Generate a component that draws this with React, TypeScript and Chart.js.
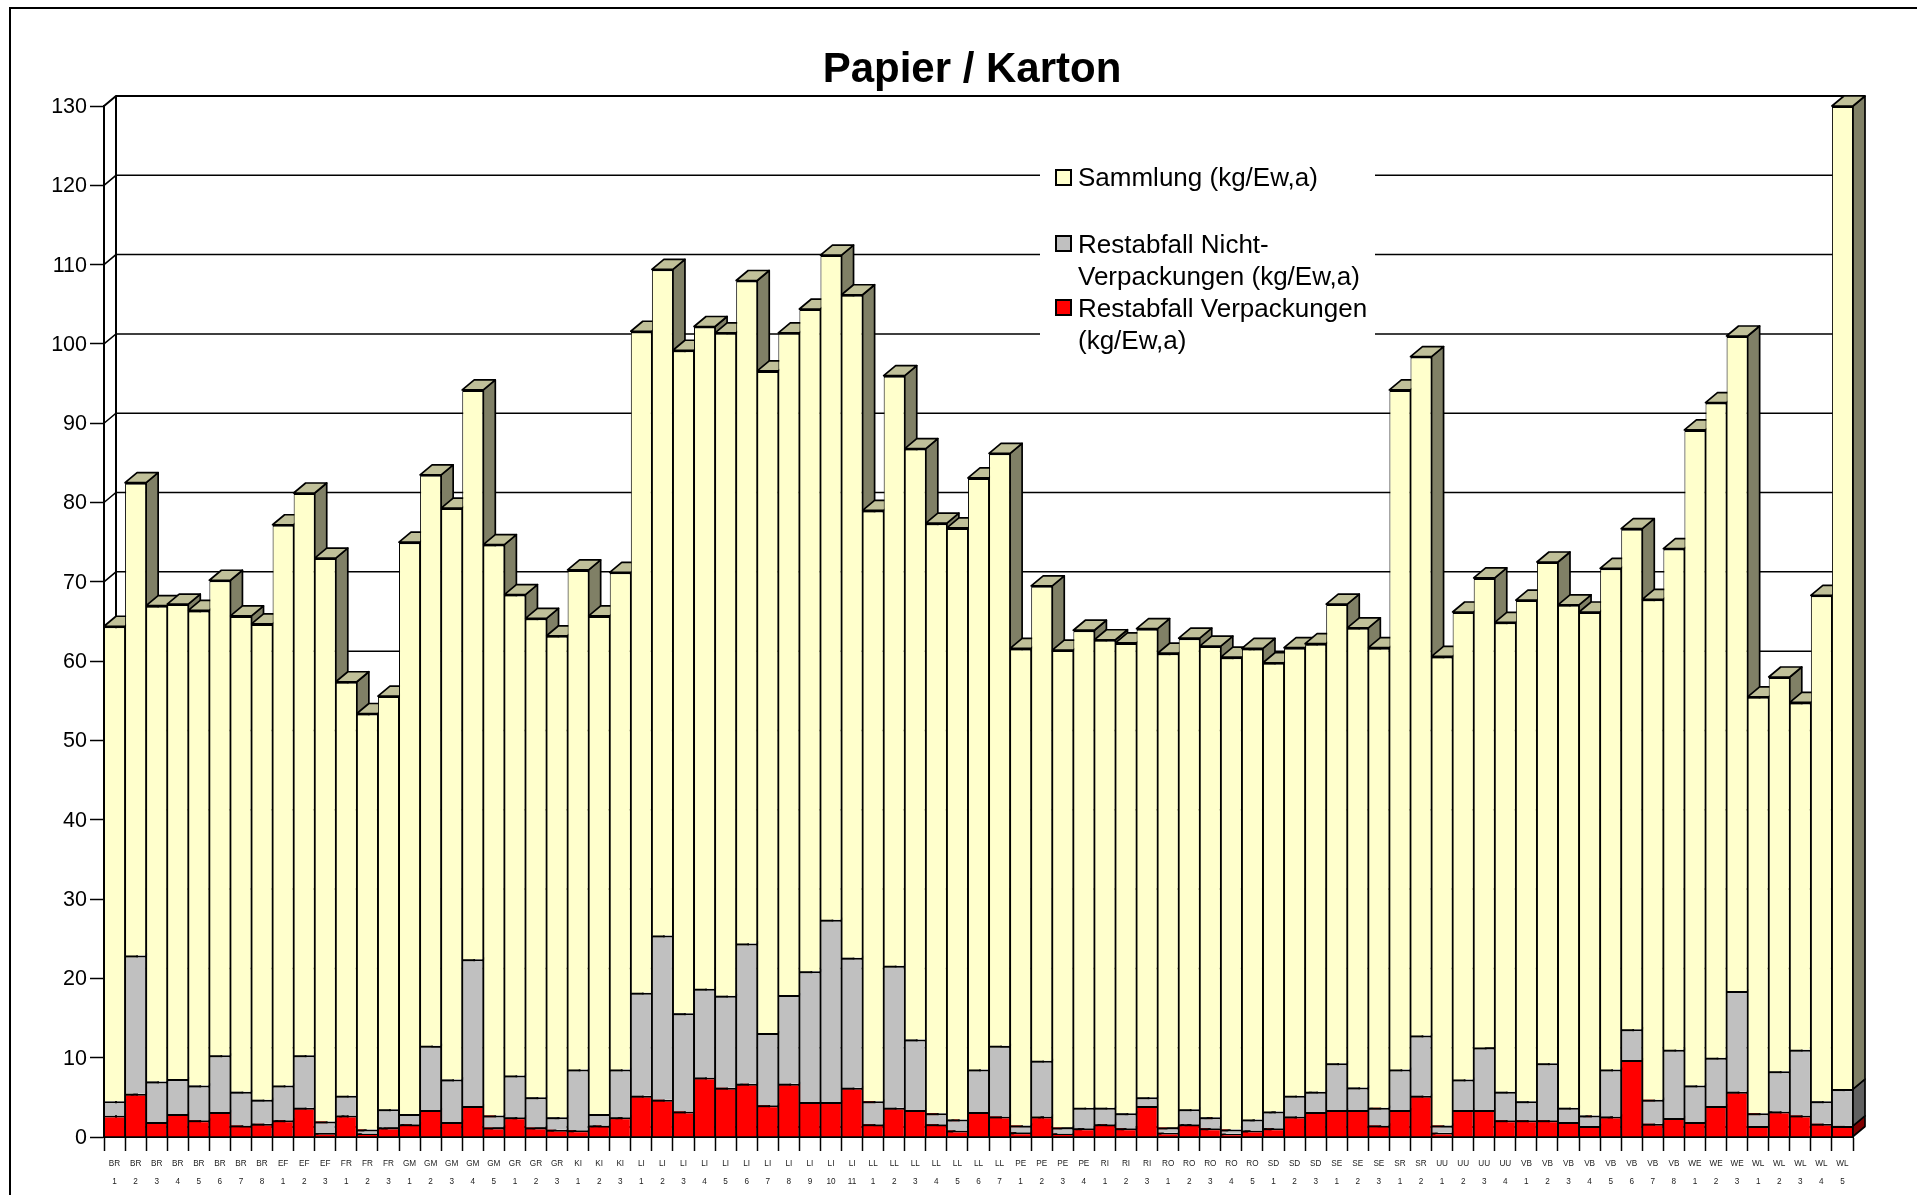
import React, { useEffect, useRef } from "react";
import { Chart, registerables } from "chart.js";

Chart.register(...registerables);

const groupNames = ["BR","BR","BR","BR","BR","BR","BR","BR","EF","EF","EF","FR","FR","FR","GM","GM","GM","GM","GM","GR","GR","GR","KI","KI","KI","LI","LI","LI","LI","LI","LI","LI","LI","LI","LI","LI","LL","LL","LL","LL","LL","LL","LL","PE","PE","PE","PE","RI","RI","RI","RO","RO","RO","RO","RO","SD","SD","SD","SE","SE","SE","SR","SR","UU","UU","UU","UU","VB","VB","VB","VB","VB","VB","VB","VB","WE","WE","WE","WL","WL","WL","WL","WL"];
const groupNumbers = ["1","2","3","4","5","6","7","8","1","2","3","1","2","3","1","2","3","4","5","1","2","3","1","2","3","1","2","3","4","5","6","7","8","9","10","11","1","2","3","4","5","6","7","1","2","3","4","1","2","3","1","2","3","4","5","1","2","3","1","2","3","1","2","1","2","3","4","1","2","3","4","5","6","7","8","1","2","3","1","2","3","4","5"];
const restVerpackungen = [2.7,5.45,1.9,2.9,2.1,3.15,1.46,1.67,2.1,3.7,0.5,2.7,0.45,1.2,1.6,3.4,1.9,3.9,1.2,2.5,1.2,0.9,0.85,1.46,2.5,5.2,4.7,3.2,7.5,6.2,6.7,4,6.7,4.4,4.4,6.2,1.6,3.7,3.4,1.6,0.83,3.15,2.6,0.6,2.6,0.45,1.1,1.6,1.1,3.9,0.55,1.6,1.1,0.4,0.83,1.1,2.6,3.15,3.4,3.4,1.46,3.4,5.2,0.55,3.4,3.4,2.1,2.1,2.1,1.9,1.4,2.6,9.7,1.67,2.4,1.9,3.9,5.7,1.4,3.2,2.7,1.67,1.4];
const restNichtVerpackungen = [1.8,17.45,5.1,4.4,4.4,7.15,4.24,3.03,4.4,6.6,1.46,2.5,0.5,2.3,1.3,8.1,5.36,18.5,1.5,5.26,3.8,1.6,7.65,1.44,6,13,20.7,12.4,11.2,11.6,17.7,9.1,11.2,16.5,23,16.4,2.9,17.9,8.9,1.4,1.37,5.35,8.9,0.86,7,0.75,2.6,2.1,1.9,1.1,0.65,1.9,1.4,0.55,1.37,2.1,2.6,2.55,5.9,2.85,2.24,5.1,7.6,0.91,3.86,7.9,3.6,2.4,7.2,1.8,1.3,5.9,3.9,3.03,8.6,4.6,6.1,12.7,1.6,5.1,8.3,2.83,4.64];
const sammlung = [59.9,59.6,60,59.9,59.9,59.9,60,60,70.7,70.9,71.04,52.2,52.45,52.1,72.1,72,72.04,71.8,72,60.64,60.4,60.7,63,62.8,62.7,83.4,84,83.6,83.5,83.6,83.6,83.5,83.5,83.5,83.8,83.6,74.5,74.4,74.5,74.4,74.6,74.6,74.7,60.14,59.9,60.2,60.2,59,59.3,59.1,59.8,59.4,59.4,59.55,59.4,56.6,56.5,56.5,57.9,57.95,58,85.7,85.6,59.14,58.94,59.2,59.2,63.2,63.2,63.4,63.5,63.2,63.1,63.1,63.2,82.65,82.6,82.6,52.5,49.7,43.8,63.8,123.96];

const legendSammlung = ["Sammlung (kg/Ew,a)"];
const legendNicht = ["Restabfall Nicht-", "Verpackungen (kg/Ew,a)"];
const legendVerp = ["Restabfall Verpackungen", "(kg/Ew,a)"];

const FONT = "'Liberation Sans', Arial, sans-serif";
const DX = 12;
const DY = 10;

const depthPlugin = {
  id: "depth3d",
  afterLayout(chart: any) {
    if (chart.titleBlock) {
      chart.titleBlock.left = 0;
      chart.titleBlock.right = chart.width;
    }
  },
  beforeDraw(chart: any) {
    const { ctx } = chart;
    ctx.save();
    ctx.fillStyle = "#ffffff";
    ctx.fillRect(0, 0, chart.width, chart.height);
    ctx.strokeStyle = "#000000";
    ctx.lineWidth = 2;
    ctx.beginPath();
    ctx.moveTo(10, chart.height + 10);
    ctx.lineTo(10, 8);
    ctx.lineTo(chart.width + 10, 8);
    ctx.stroke();
    ctx.restore();
  },
  beforeDatasetsDraw(chart: any) {
    const { ctx, chartArea, scales } = chart;
    const y = scales.y;
    ctx.save();
    ctx.strokeStyle = "#000000";
    y.ticks.forEach((t: any) => {
      const py = y.getPixelForValue(t.value);
      ctx.lineWidth = t.value === y.max ? 2 : 1.5;
      ctx.beginPath();
      ctx.moveTo(chartArea.left, py);
      ctx.lineTo(chartArea.left + DX, py - DY);
      ctx.lineTo(chartArea.right + DX, py - DY);
      ctx.stroke();
    });
    ctx.lineWidth = 2;
    ctx.beginPath();
    ctx.moveTo(chartArea.left + DX, chartArea.top - DY);
    ctx.lineTo(chartArea.left + DX, chartArea.bottom - DY);
    ctx.lineTo(chartArea.right + DX, chartArea.bottom - DY);
    ctx.stroke();

    const sideColors = ["#800000", "#606060", "#808066"];
    const topColor = "#C0C099";
    ctx.strokeStyle = "#000000";
    ctx.lineWidth = 1.7;
    ctx.lineJoin = "round";
    const n = chart.data.labels.length;
    const last = chart.data.datasets.length - 1;
    for (let j = 0; j < n; j++) {
      chart.data.datasets.forEach((_: any, d: number) => {
        const bar = chart.getDatasetMeta(d).data[j];
        const r = bar.x + bar.width / 2;
        const l = bar.x - bar.width / 2;
        ctx.fillStyle = sideColors[d];
        ctx.beginPath();
        ctx.moveTo(r, bar.y);
        ctx.lineTo(r + DX, bar.y - DY);
        ctx.lineTo(r + DX, bar.base - DY);
        ctx.lineTo(r, bar.base);
        ctx.closePath();
        ctx.fill();
        ctx.stroke();
        if (d === last) {
          ctx.fillStyle = topColor;
          ctx.beginPath();
          ctx.moveTo(l, bar.y);
          ctx.lineTo(l + DX, bar.y - DY);
          ctx.lineTo(r + DX, bar.y - DY);
          ctx.lineTo(r, bar.y);
          ctx.closePath();
          ctx.fill();
          ctx.stroke();
        }
      });
    }
    ctx.restore();
  },
  afterDraw(chart: any) {
    const { ctx } = chart;
    ctx.save();
    ctx.fillStyle = "#ffffff";
    ctx.fillRect(1040, 160, 335, 200);
    const rows = [
      { lines: legendSammlung, color: chart.data.datasets[2].backgroundColor, boxTop: 170, base: 186 },
      { lines: legendNicht, color: chart.data.datasets[1].backgroundColor, boxTop: 236, base: 252.5 },
      { lines: legendVerp, color: chart.data.datasets[0].backgroundColor, boxTop: 300, base: 316.5 },
    ];
    ctx.font = `26px ${FONT}`;
    ctx.textAlign = "left";
    ctx.textBaseline = "alphabetic";
    rows.forEach((row) => {
      ctx.fillStyle = row.color;
      ctx.strokeStyle = "#000000";
      ctx.lineWidth = 2;
      ctx.fillRect(1056, row.boxTop, 15, 15);
      ctx.strokeRect(1056, row.boxTop, 15, 15);
      ctx.fillStyle = "#000000";
      row.lines.forEach((line: string, i: number) => {
        ctx.fillText(line, 1078, row.base + i * 32);
      });
    });
    ctx.restore();
  },
};

export default function App() {
  const ref = useRef<HTMLCanvasElement>(null);
  useEffect(() => {
    const chart = new Chart(ref.current as HTMLCanvasElement, {
      type: "bar",
      data: {
        labels: groupNames.map((g, i) => [g, groupNumbers[i]]),
        datasets: [
          { label: "Restabfall Verpackungen (kg/Ew,a)", data: restVerpackungen, backgroundColor: "#FF0000" },
          { label: "Restabfall Nicht-Verpackungen (kg/Ew,a)", data: restNichtVerpackungen, backgroundColor: "#C0C0C0" },
          { label: "Sammlung (kg/Ew,a)", data: sammlung, backgroundColor: "#FFFFCC" },
        ],
      },
      options: {
        responsive: false,
        animation: false,
        events: [],
        layout: { padding: { left: 0, top: 0, right: 91, bottom: 0 } },
        datasets: {
          bar: {
            barPercentage: 1,
            categoryPercentage: 1,
            borderColor: "#000000",
            borderWidth: { top: 2, left: 1, right: 1, bottom: 0 },
            borderSkipped: false,
            inflateAmount: 0,
          },
        },
        plugins: {
          legend: { display: false },
          tooltip: { enabled: false },
          title: {
            display: true,
            text: "Papier / Karton",
            color: "#000000",
            font: { family: FONT, size: 42, weight: "bold", lineHeight: 1.2 },
            padding: { top: 44.8, bottom: 10.8 },
          },
        },
        scales: {
          x: {
            stacked: true,
            afterFit: (s: any) => { s.height = 58; },
            border: { display: true, color: "#000000", width: 2 },
            grid: { display: true, drawOnChartArea: false, drawTicks: true, tickLength: 14, tickWidth: 1.5, tickColor: "#000000", offset: true },
            ticks: {
              autoSkip: false,
              maxRotation: 0,
              minRotation: 0,
              padding: 3.5,
              color: "#222222",
              font: { family: FONT, size: 8.2, lineHeight: 2.25 },
            },
          },
          y: {
            stacked: true,
            min: 0,
            max: 130,
            afterFit: (s: any) => { s.width = 104; },
            border: { display: true, color: "#000000", width: 2 },
            grid: { display: true, drawOnChartArea: false, drawTicks: true, tickLength: 14, tickWidth: 1.5, tickColor: "#000000" },
            ticks: {
              stepSize: 10,
              padding: 3,
              labelOffset: 1,
              color: "#000000",
              font: { family: FONT, size: 21.5 },
            },
          },
        },
      },
      plugins: [depthPlugin],
    } as any);
    return () => chart.destroy();
  }, []);
  return (
    <div style={{ position: "fixed", left: 0, top: 0, width: 1917, height: 1195, overflow: "hidden", background: "#fff" }}>
      <canvas ref={ref} width={1944} height={1195} style={{ display: "block" }} />
    </div>
  );
}
